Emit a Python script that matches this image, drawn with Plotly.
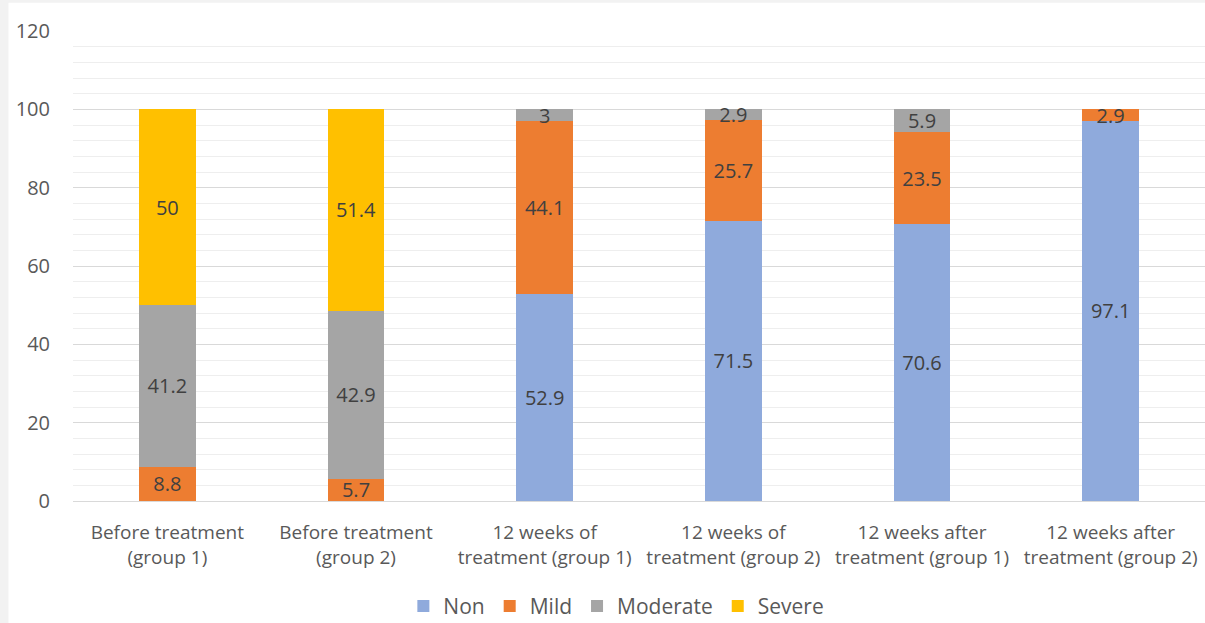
import plotly.graph_objects as go

categories = [
    "Before treatment<br>(group 1)",
    "Before treatment<br>(group 2)",
    "12 weeks of<br>treatment (group 1)",
    "12 weeks of<br>treatment (group 2)",
    "12 weeks after<br>treatment (group 1)",
    "12 weeks after<br>treatment (group 2)",
]
non_vals = [None, None, 52.9, 71.5, 70.6, 97.1]
mild_vals = [8.8, 5.7, 44.1, 25.7, 23.5, 2.9]
moderate_vals = [41.2, 42.9, 3, 2.9, 5.9, None]
severe_vals = [50, 51.4, None, None, None, None]

series = [
    ("Non", non_vals, "#8FAADC"),
    ("Mild", mild_vals, "#ED7D31"),
    ("Moderate", moderate_vals, "#A5A5A5"),
    ("Severe", severe_vals, "#FFC000"),
]

FONT = "Open Sans, Liberation Sans, sans-serif"

fig = go.Figure()
for name, vals, color in series:
    fig.add_trace(go.Bar(
        name=name, x=categories, y=vals,
        marker=dict(color=color, line=dict(width=0)),
        text=[("" if v is None else f"{v:g}") for v in vals],
        textposition="inside", insidetextanchor="middle", textangle=0,
        constraintext="none", cliponaxis=False,
        textfont=dict(color="#404040", size=20, family=FONT),
        hoverinfo="skip",
    ))

fig.update_layout(
    barmode="stack", bargap=0.70,
    width=1205, height=623,
    margin=dict(l=73, r=0, t=31, b=122, autoexpand=False),
    paper_bgcolor="#f2f2f2", plot_bgcolor="white",
    font=dict(family=FONT, color="#595959", size=20),
    legend=dict(orientation="h", x=0.48, xanchor="center", y=-0.224, yanchor="middle",
                font=dict(size=21, color="#595959"), traceorder="normal",
                itemwidth=30, bgcolor="rgba(0,0,0,0)"),
    showlegend=True,
    shapes=[dict(type="rect", xref="paper", yref="paper", x0=-0.057, x1=1.01, y0=-0.3, y1=1.06,
                 fillcolor="white", line=dict(width=0), layer="below")],
)
fig.update_yaxes(range=[0, 120], dtick=20, showgrid=True, gridcolor="#d9d9d9", gridwidth=1,
                 minor=dict(dtick=4, showgrid=True, gridcolor="#eeeeee", gridwidth=1),
                 zeroline=False, ticks="", tickfont=dict(size=20, color="#595959"),
                 ticklabelstandoff=22, showline=False, automargin=False)
fig.update_xaxes(showline=True, linecolor="#d9d9d9", ticks="", tickfont=dict(size=19, color="#595959"),
                 ticklabelstandoff=14, automargin=False)

fig.write_html("out.html")
